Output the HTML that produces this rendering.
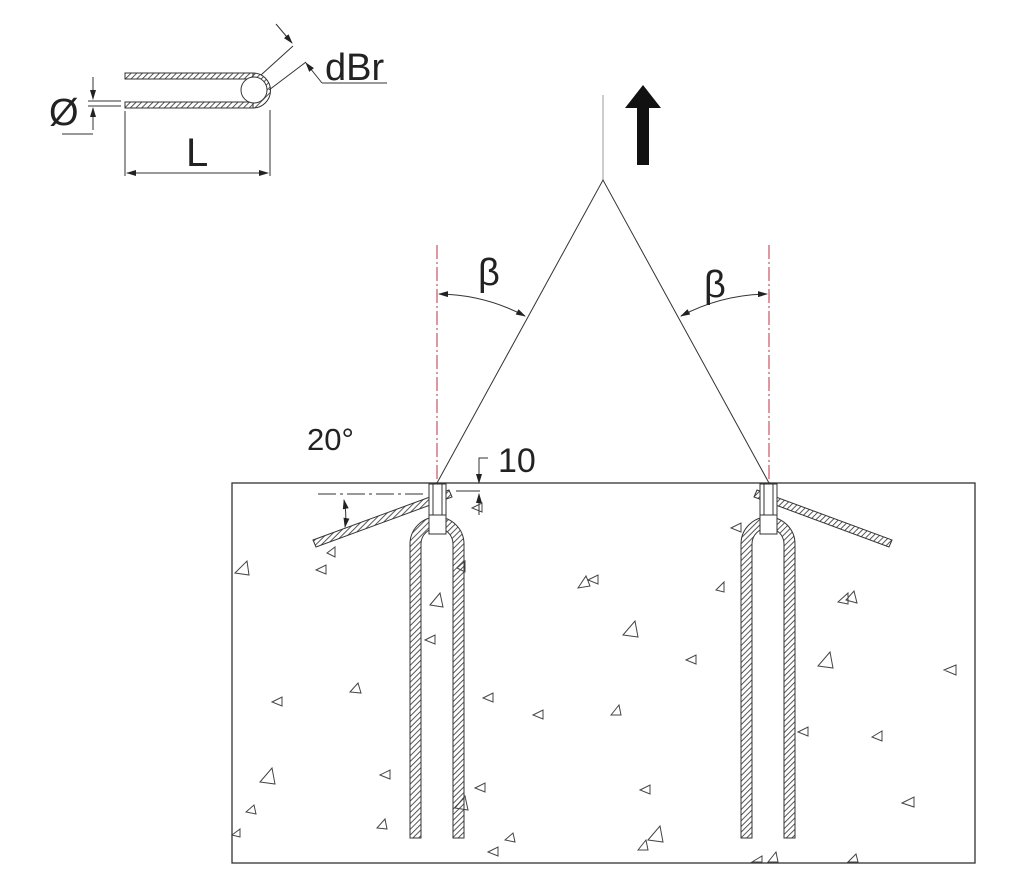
<!DOCTYPE html>
<html><head><meta charset="utf-8"><style>html,body{margin:0;padding:0;background:#fff}svg{display:block}</style></head><body>
<svg width="1020" height="880" viewBox="0 0 1020 880" xmlns="http://www.w3.org/2000/svg" font-family="Liberation Sans, sans-serif">
<defs>
<pattern id="h" width="4" height="4" patternUnits="userSpaceOnUse" patternTransform="rotate(45)">
<rect width="4" height="4" fill="#fff"/><line x1="0" y1="0" x2="0" y2="4" stroke="#444" stroke-width="1.8"/></pattern>
<marker id="a" markerWidth="10" markerHeight="6" refX="9" refY="3" orient="auto-start-reverse"><path d="M0,0 L10,3 L0,6z" fill="#222"/></marker>
</defs>
<g stroke="#333" stroke-width="1" fill="none">
<!-- top-left detail -->
<rect x="125" y="73" width="128" height="6" fill="url(#h)"/>
<rect x="125" y="102" width="128" height="6" fill="url(#h)"/>
<path d="M253,73 A17.5,17.5 0 0 1 253,108 L253,102 A11.5,11.5 0 0 0 253,79 z" fill="url(#h)"/>
<circle cx="254" cy="90" r="13" fill="#fff"/>
<line x1="261" y1="75" x2="293" y2="46"/>
<line x1="269" y1="90" x2="306" y2="62"/>
<line x1="276" y1="24" x2="292" y2="43" marker-end="url(#a)"/>
<line x1="322" y1="83" x2="306" y2="63" marker-end="url(#a)"/>
<line x1="322" y1="83" x2="387" y2="83"/>
<line x1="88" y1="101" x2="121" y2="101"/>
<line x1="88" y1="106" x2="121" y2="106"/>
<line x1="93" y1="77" x2="93" y2="99" marker-end="url(#a)"/>
<line x1="93" y1="130" x2="93" y2="108" marker-end="url(#a)"/>
<line x1="62" y1="134" x2="93" y2="134"/>
<line x1="125" y1="111" x2="125" y2="176"/>
<line x1="270" y1="110" x2="270" y2="176"/>
<line x1="127" y1="173" x2="268" y2="173" marker-start="url(#a)" marker-end="url(#a)"/>
<!-- main lines -->
<line x1="603" y1="95" x2="603" y2="180" stroke="#999"/>
<polyline points="437,483 603,180 769,483"/>
<path d="M439,294 A190,190 0 0 1 525,316" marker-start="url(#a)" marker-end="url(#a)"/>
<path d="M767,294 A190,190 0 0 0 681,316" marker-start="url(#a)" marker-end="url(#a)"/>
<line x1="437" y1="245" x2="437" y2="483" stroke="#c03040" stroke-dasharray="14,3,2,3"/>
<line x1="769" y1="245" x2="769" y2="483" stroke="#c03040" stroke-dasharray="14,3,2,3"/>
<!-- concrete -->
<rect x="232" y="483" width="743" height="380" stroke-width="1.3"/>
<!-- angled bars -->
<polygon points="313,540 449,490 452,497 316,547" fill="url(#h)"/>
<polygon points="757,490 892,540 889,547 754,497" fill="url(#h)"/>
<!-- loops -->
<path d="M410,838 L410,544 A27,27 0 0 1 464,544 L464,838 L453,838 L453,544 A16,16 0 0 0 421,544 L421,838 z" fill="url(#h)"/>
<path d="M741,838 L741,544 A27,27 0 0 1 795,544 L795,838 L784,838 L784,544 A16,16 0 0 0 752,544 L752,838 z" fill="url(#h)"/>
<!-- inserts -->
<rect x="429" y="484" width="17" height="50" fill="#fff"/>
<line x1="429" y1="515" x2="446" y2="515"/><line x1="433" y1="484" x2="433" y2="515"/><line x1="442" y1="484" x2="442" y2="515"/>
<rect x="760" y="484" width="17" height="50" fill="#fff"/>
<line x1="760" y1="515" x2="777" y2="515"/><line x1="764" y1="484" x2="764" y2="515"/><line x1="773" y1="484" x2="773" y2="515"/>
<!-- 20deg dims -->
<line x1="318" y1="494" x2="426" y2="494" stroke-dasharray="18,4,3,4"/>
<path d="M344,500 Q347,515 345,527" marker-start="url(#a)" marker-end="url(#a)"/>
<line x1="456" y1="491" x2="480" y2="491"/>
<line x1="479" y1="473" x2="479" y2="483" marker-end="url(#a)"/>
<line x1="479" y1="515" x2="479" y2="494" marker-end="url(#a)"/>
<polyline points="479,473 479,458 488,458"/>
<!-- aggregate triangles -->
<g stroke="#444">
<path d="M235,573 l12,-12 l2,14z M316,570 l10,-5 l0,9z M327,553 l8,-6 l0,10z M430,605 l10,-12 l3,14z M425,640 l10,-5 l0,9z M457,568 l8,-7 l0,11z M472,508 l10,-5 l0,9z M578,588 l8,-12 l4,10z M588,580 l10,-5 l0,9z M623,635 l12,-14 l3,16z M686,660 l10,-5 l0,9z M716,590 l8,-8 l0,10z M731,528 l10,-5 l0,9z M838,602 l10,-9 l0,11z M846,600 l8,-9 l3,12z M818,666 l12,-14 l3,16z M944,670 l12,-5 l0,10z M272,702 l10,-5 l0,9z M350,692 l8,-9 l3,10z M483,698 l10,-5 l0,9z M533,715 l10,-5 l0,9z M611,715 l8,-10 l2,10z M798,732 l10,-5 l0,9z M872,737 l10,-6 l0,10z M260,782 l12,-14 l3,16z M380,775 l10,-5 l0,9z M455,808 l10,-12 l3,14z M475,788 l10,-5 l0,9z M640,790 l10,-5 l0,9z M902,803 l12,-6 l0,10z M246,812 l8,-7 l2,9z M232,835 l8,-6 l0,8z M377,828 l8,-9 l2,10z M488,852 l10,-5 l0,9z M505,840 l8,-7 l2,9z M638,850 l8,-10 l2,10z M648,840 l12,-14 l3,16z M752,862 l10,-6 l0,6z M768,862 l8,-10 l2,10z M848,862 l8,-8 l2,8z"/>
</g>
</g>
<path d="M643,85 L661,108 L649,108 L649,165 L637,165 L637,108 L625,108 z" fill="#111"/>
<g fill="#222">
<text x="325" y="80" font-size="38">dBr</text>
<text x="49" y="125" font-size="38">Ø</text>
<text x="186" y="166" font-size="40">L</text>
<text x="478" y="285" font-size="38">β</text>
<text x="704" y="297" font-size="38">β</text>
<text x="307" y="450" font-size="31">20°</text>
<text x="498" y="472" font-size="34">10</text>
</g>
</svg>
</body></html>
